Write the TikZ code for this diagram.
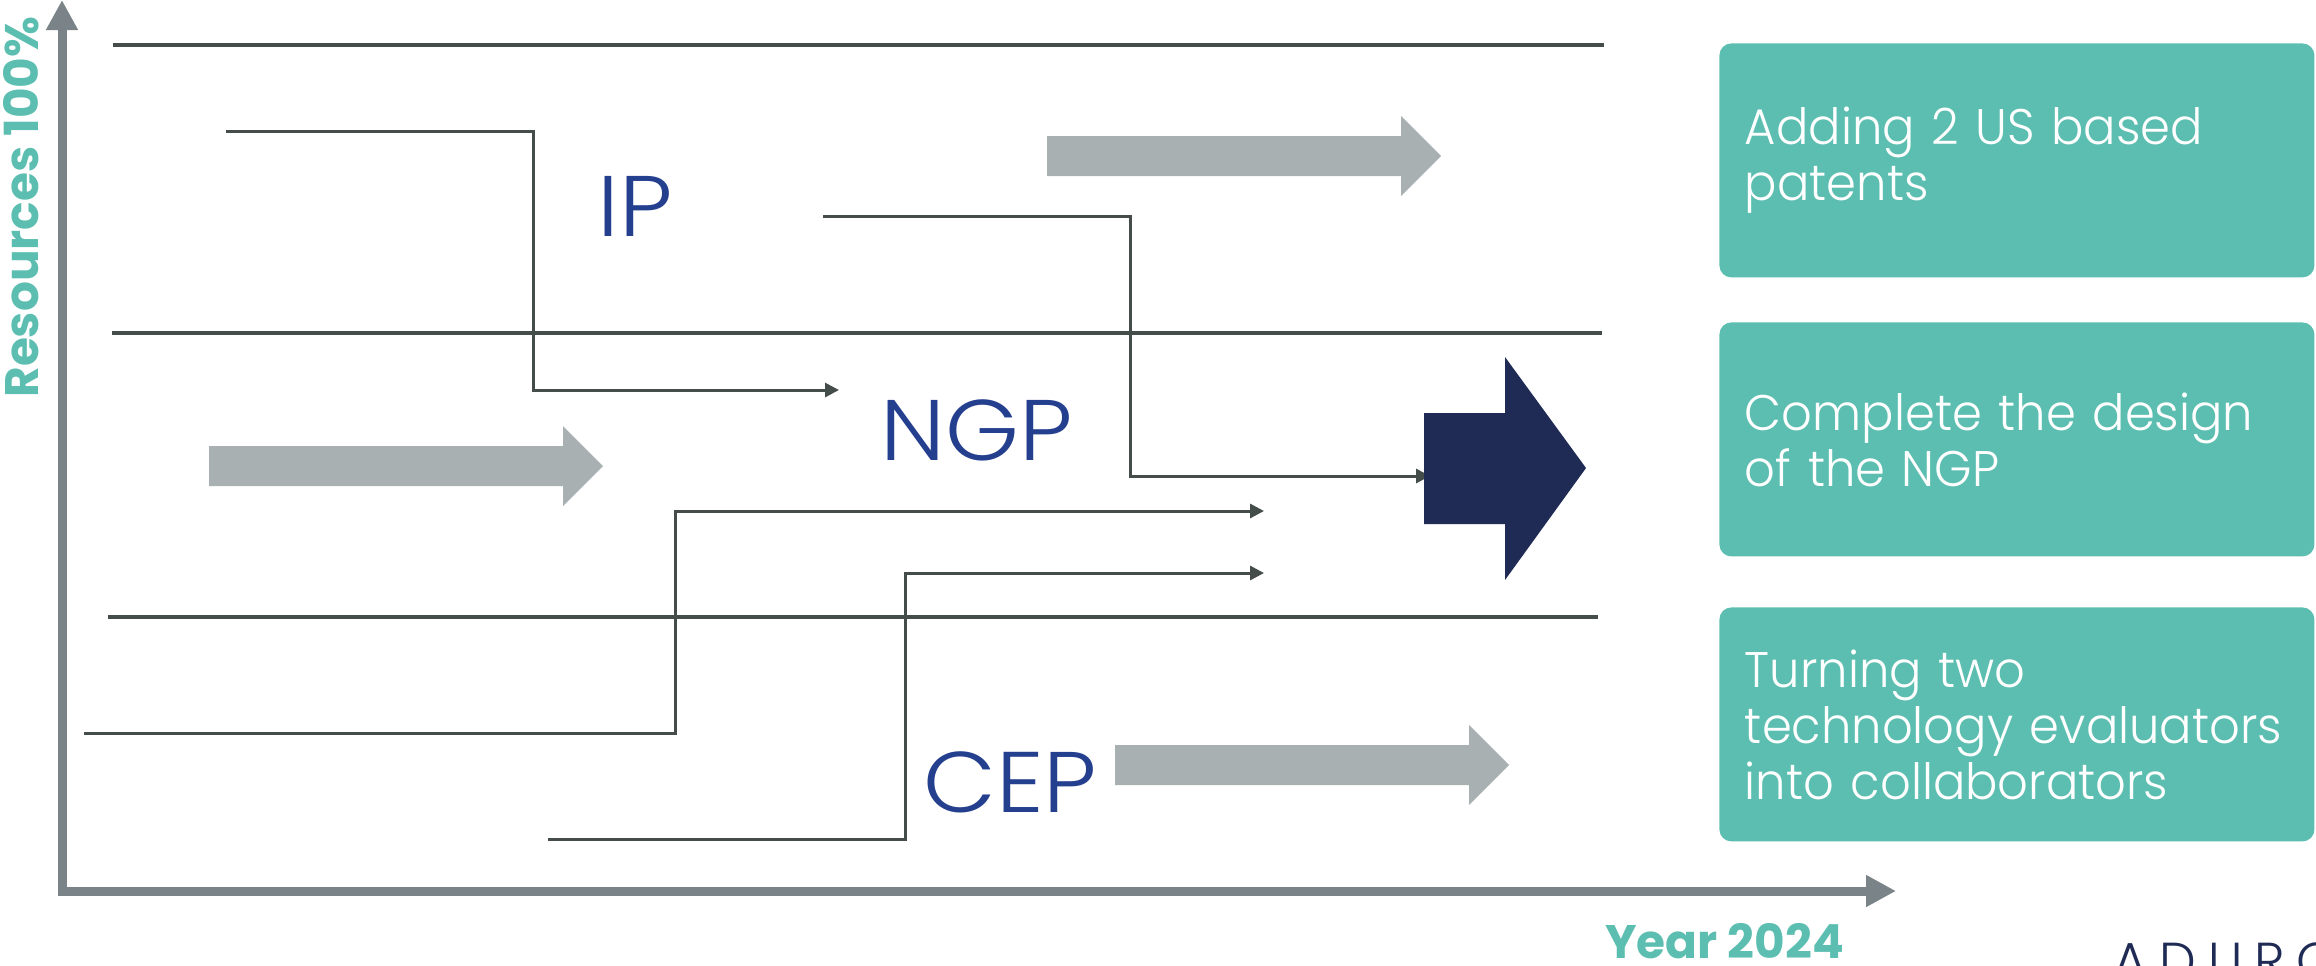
\documentclass[tikz,border=0pt]{standalone}
\usepackage{fontspec}
\setmainfont{Poppins}
\newfontfamily\lightfont{Poppins Light}
\newfontfamily\boxfont{Poppins Light}[FakeStretch=0.96]
\newfontfamily\phasefont{Poppins Light}[FakeStretch=1.1]
\usepackage{tikz}
\usetikzlibrary{arrows.meta, positioning}

\definecolor{tealbox}{HTML}{5CBEB0}
\definecolor{axisgrey}{HTML}{7A8488}
\definecolor{linegrey}{HTML}{454D4B}
\definecolor{arrowgrey}{HTML}{A9B0B2}
\definecolor{navy}{HTML}{1F2B54}
\definecolor{labelblue}{HTML}{253F8F}

\begin{document}
\begin{tikzpicture}[x=0.5pt, y=-0.5pt,
    divider/.style={draw=linegrey, line width=2pt},
    connector/.style={draw=linegrey, line width=1.5pt, -{Triangle[length=7pt,width=7pt]}},
    greyarrow/.style={fill=arrowgrey},
    axisline/.style={draw=axisgrey, line width=4.5pt, miter limit=10,
        {Triangle[length=15pt,width=15pt]}-{Triangle[length=15pt,width=15pt]}},
    goalbox/.style={fill=tealbox, rounded corners=6pt, text=white, align=left,
        text width=272pt, inner xsep=12pt, inner ysep=0pt, minimum width=297.5pt,
        minimum height=117pt, anchor=north west, font=\boxfont\fontsize{25}{28}\selectfont},
    phase/.style={text=labelblue, anchor=base, inner sep=0pt, font=\phasefont\fontsize{43}{43}\selectfont},
    axislabel/.style={text=tealbox, inner sep=0pt, font=\bfseries\fontsize{23.5}{24}\selectfont}]
    \useasboundingbox (0,0) rectangle (2316,965);
    \clip (0,0) rectangle (2316,965);

    % band dividers
    \foreach \y/\a/\b in {45/113/1604, 333/112/1602, 617/108/1598} {
        \draw[divider] (\a,\y) -- (\b,\y);
    }

    % routing lines between the bands
    \foreach \n/\sx/\sy/\run/\ex/\ey in {ip/226/131/307/839/390, ngp/823/216/307/1430/476,
                                         cepa/84/733/591/1264/511, cepb/548/839/357/1264/573} {
        \coordinate (\n-from) at (\sx,\sy);
        \coordinate (\n-to) at (\ex,\ey);
        \draw[connector] (\n-from) -- ++(\run,0) |- (\n-to);
    }

    % grey block arrows
    \foreach \x/\y in {1047/156, 209/466, 1115/765} {
        \fill[greyarrow] (\x,\y-20) -- ++(354,0) -- ++(0,-20) -- ++(40,40)
            -- ++(-40,40) -- ++(0,-20) -- ++(-354,0) -- cycle;
    }

    % big navy arrow
    \fill[navy] (1424,413) -- (1505,413) -- (1505,357) -- (1586,468)
        -- (1505,580) -- (1505,524) -- (1424,524) -- cycle;

    % phase labels
    \node[phase] (ip) at (635,236) {IP};
    \node[phase] (ngp) at (977,460) {NGP};
    \node[phase] (cep) at (1010,812) {CEP};

    % goals
    \node[goalbox] (goal1) at (1719,43) {Adding 2 US based\\patents};
    \node[goalbox] (goal2) at (1719,322) {Complete the design\\of the NGP};
    \node[goalbox] (goal3) at (1719,607) {Turning two\\technology evaluators\\into collaborators};

    % axes
    \coordinate (ytop) at (62,0);
    \coordinate (origin) at (62,891);
    \coordinate (xend) at (1896,891);
    \draw[axisline] (ytop) -- (origin) -- (xend);
    \node[axislabel, rotate=90, anchor=base west] (ylab) at (38,398) {Resources 100\%};
    \node[axislabel, anchor=base west] (xlab) at (1605,958) {Year 2024};

    % logo, cut by the page edge
    \node[text=navy, anchor=base west, inner sep=0pt, font=\lightfont\fontsize{26}{26}\selectfont]
        (logo) at (2113,979) {A\kern6pt D\kern6pt U\kern6pt R\kern6pt O};
\end{tikzpicture}
\end{document}
